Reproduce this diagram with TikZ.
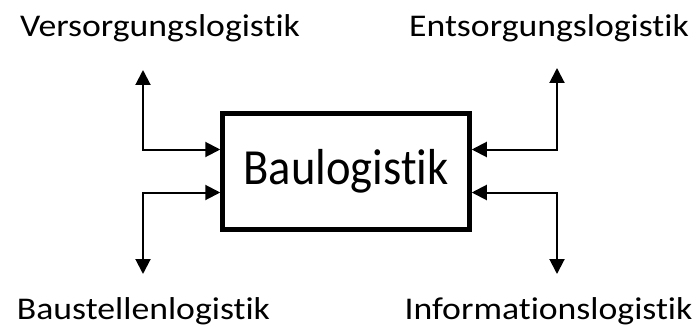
\documentclass[tikz,border=0pt]{standalone}
\usepackage{fontspec}
\setmainfont{Carlito}
\newfontfamily\labelfont{Carlito}[FakeStretch=1.13, Ligatures=NoCommon]
\newfontfamily\boxfont{Carlito}[FakeStretch=0.92, Ligatures=NoCommon]
\usetikzlibrary{arrows.meta}

\begin{document}
\begin{tikzpicture}[x=1pt,y=-1pt,>={Triangle[length=15pt,width=15pt]}]
	\tikzstyle{every node}=[font=\labelfont\fontsize{31.6}{36}\selectfont, inner sep=0pt]
	\tikzstyle{link}=[draw=black, line width=2pt, <->]
	\useasboundingbox (0,0) rectangle (700,326);
	
	% central box
	\node[draw, line width=5pt, minimum width=246.5pt, minimum height=116pt,
		font=\boxfont\fontsize{50.6}{56}\selectfont] (bau) at (346,171) {Baulogistik};
	
	% the four labels
	\node[anchor=base] (vers) at (160,36.7) {Versorgungslogistik};
	\node[anchor=base] (ents) at (549,36.7) {Entsorgungslogistik};
	\node[anchor=base] (baust) at (143.5,319) {Baustellenlogistik};
	\node[anchor=base] (info) at (548.5,319) {Informationslogistik};
	
	% free ends of the arrows
	\coordinate (vEnd) at (143,70);
	\coordinate (eEnd) at (557,68);
	\coordinate (bEnd) at (143,274);
	\coordinate (iEnd) at (557,274);
	
	% arrows into the box
	\foreach \tip/\side/\dy in {vEnd/west/21.5, bEnd/west/-21.5, eEnd/east/21.5, iEnd/east/-21.5} {
		\draw[link] (\tip) |- ([yshift=\dy pt]bau.\side);
	}
	
\end{tikzpicture}
\end{document}
